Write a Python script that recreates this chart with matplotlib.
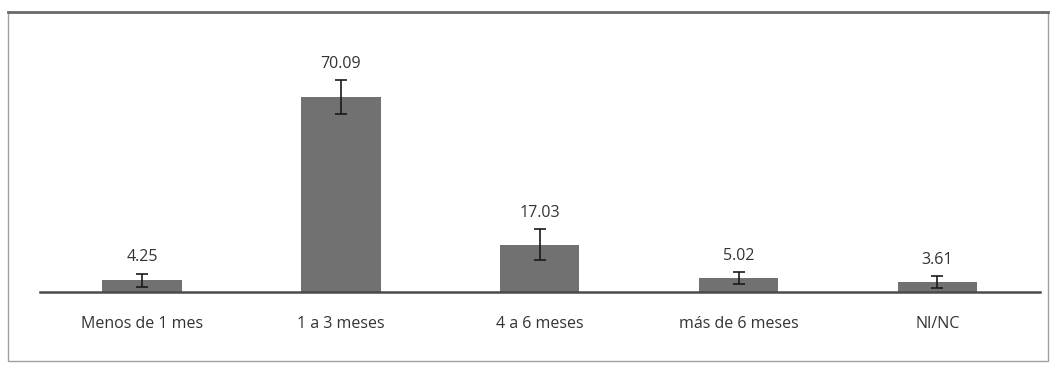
import matplotlib
matplotlib.use('Agg')
import matplotlib.pyplot as plt
from matplotlib.patches import Rectangle

categories = ['Menos de 1 mes', '1 a 3 meses', '4 a 6 meses', 'más de 6 meses', 'NI/NC']
values = [4.25, 70.09, 17.03, 5.02, 3.61]
errors = [2.3, 6.0, 5.5, 2.0, 2.0]
labels = ['4.25', '70.09', '17.03', '5.02', '3.61']

plt.rcParams['font.family'] = ['Open Sans', 'DejaVu Sans']

fig = plt.figure(figsize=(10.5, 3.68), dpi=100)

# outer frame of the figure box
frame = Rectangle((0.008, 0.02), 0.99, 0.948, transform=fig.transFigure,
                  fill=False, edgecolor='#a0a0a0', linewidth=1.0)
fig.patches.append(frame)
fig.add_artist(plt.Line2D([0.008, 0.998], [0.968, 0.968], transform=fig.transFigure,
                          color='#6a6a6a', linewidth=2))

ax = fig.add_axes([0.038, 0.2065, 0.952, 0.712])
x = list(range(len(categories)))
ax.bar(x, values, width=0.40, color='#717171', zorder=2)
ax.errorbar(x, values, yerr=errors, fmt='none', ecolor='#1a1a1a',
            elinewidth=1.2, capsize=4, capthick=1.2, zorder=3)

for xi, v, e, lab in zip(x, values, errors, labels):
    ax.annotate(lab, (xi, v + e), xytext=(0, 6), textcoords='offset points',
                ha='center', va='bottom', fontsize=11.5, color='#333333')

ax.set_xlim(-0.513, 4.513)
ax.set_ylim(0, 94.2)
ax.set_xticks(x)
ax.set_xticklabels(categories, fontsize=11.5, color='#333333')
ax.tick_params(axis='x', length=0, pad=17)
ax.set_yticks([])
for side in ['top', 'left', 'right']:
    ax.spines[side].set_visible(False)
ax.spines['bottom'].set_color('#4a4a4a')
ax.spines['bottom'].set_linewidth(1.8)
ax.set_facecolor('none')

fig.savefig('out.png', dpi=100)
